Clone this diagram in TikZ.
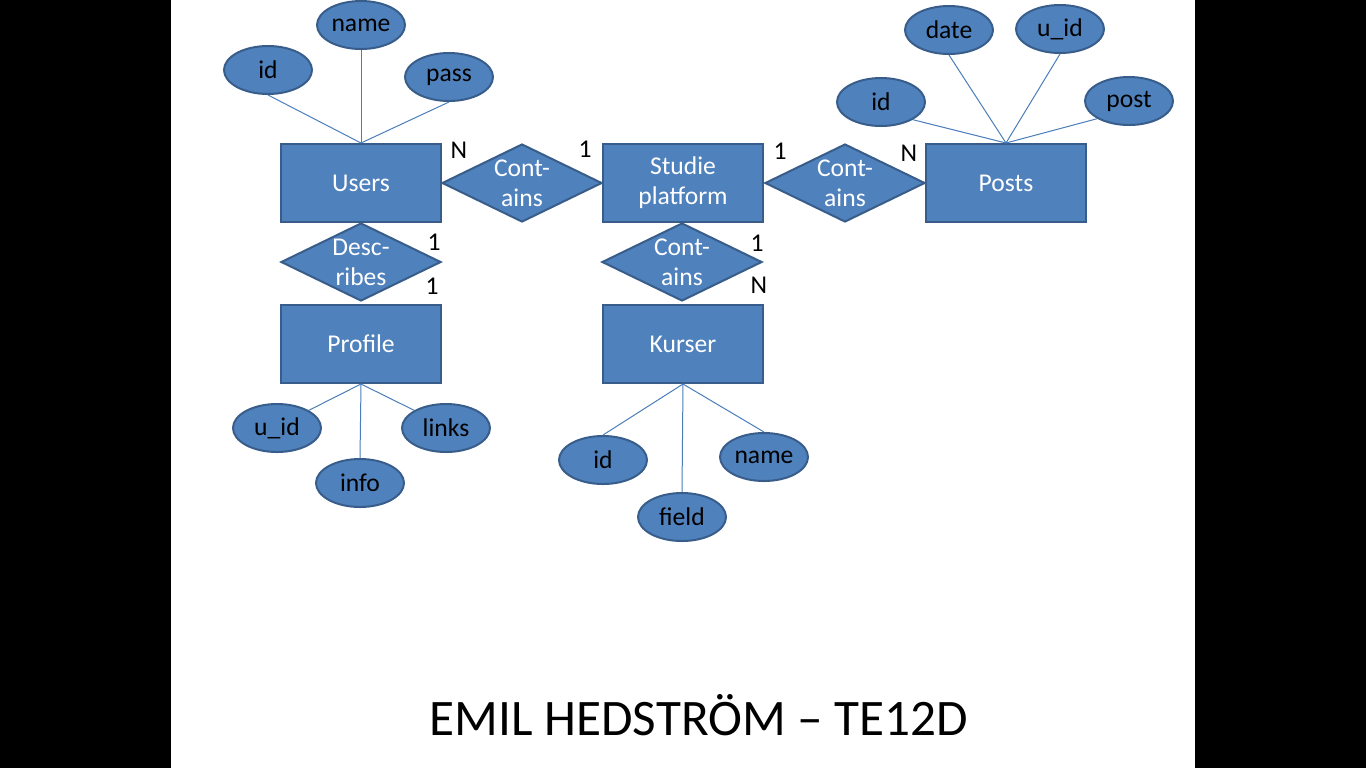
\documentclass[tikz,border=0pt]{standalone}
\usepackage{fontspec}
\setmainfont{Carlito}
\usetikzlibrary{shapes.geometric}

\definecolor{boxblue}{HTML}{4F81BD}
\definecolor{edgeblue}{HTML}{385D8A}
\definecolor{lineblue}{HTML}{4A7EBB}

\begin{document}
\begin{tikzpicture}
	[x=0.5pt,y=-0.5pt,
	entity/.style={rectangle, draw=edgeblue, fill=boxblue, line width=1pt, minimum width=80pt, minimum height=39pt, text=white, align=center, font=\fontsize{12.8}{15}\selectfont},
	rel/.style={diamond, draw=edgeblue, fill=boxblue, line width=1pt, aspect=2, inner sep=0pt, minimum width=80pt, minimum height=39pt, text=white, align=center, font=\fontsize{12.8}{15}\selectfont},
	attr/.style={ellipse, draw=edgeblue, fill=boxblue, line width=1pt, inner sep=0pt, minimum width=44pt, minimum height=24pt, font=\fontsize{12.8}{15}\selectfont},
	card/.style={font=\fontsize{12.8}{15}\selectfont},
	link/.style={draw=lineblue, line width=0.5pt}]
	\fill[black] (0,0) rectangle (1366,768);
	\fill[white] (171,0) rectangle (1195,768);
	
	\node[entity] (users) at (361,183) {Users};
	\node[entity] (sp) at (683,183) {Studie\\platform};
	\node[entity] (posts) at (1006,183) {Posts};
	\node[entity] (profile) at (361,344) {Profile};
	\node[entity] (kurser) at (683,344) {Kurser};
	
	\node[rel] (c1) at (522,183) {Cont-\\ains};
	\node[rel] (c2) at (845,183) {Cont-\\ains};
	\node[rel] (desc) at (361,262) {Desc-\\ribes};
	\node[rel] (c3) at (682,262) {Cont-\\ains};
	
	\node[attr] (uid) at (268,70) {id};
	\node[attr] (uname) at (361,25) {name};
	\node[attr] (upass) at (449,77) {pass};
	
	\node[attr] (pid) at (881,102) {id};
	\node[attr] (pdate) at (949,30) {date};
	\node[attr] (puid) at (1060,29) {u\_id};
	\node[attr] (ppost) at (1129,101) {post};
	
	\node[attr] (fuid) at (277,428) {u\_id};
	\node[attr] (finfo) at (360,483) {info};
	\node[attr] (flinks) at (446,428) {links};
	
	\node[attr] (kid) at (603,460) {id};
	\node[attr] (kfield) at (682,517) {field};
	\node[attr] (kname) at (764,457) {name};
	
	\node[card] (n1) at (459,150) {N};
	\node[card] (n2) at (585,149) {1};
	\node[card] (n3) at (780,151) {1};
	\node[card] (n4) at (909,153) {N};
	\node[card] (n5) at (434,242) {1};
	\node[card] (n6) at (432,286) {1};
	\node[card] (n7) at (757,243) {1};
	\node[card] (n8) at (759,285) {N};
	
	\foreach \from/\to in {uid.south/users.north,uname.south/users.north,upass.south/users.north,
		pid.south east/posts.north,pdate.south/posts.north,puid.south/posts.north,ppost.south west/posts.north,
		fuid.north east/profile.south,finfo.north/profile.south,flinks.north west/profile.south,
		kid.north/kurser.south,kfield.north/kurser.south,kname.north/kurser.south}
	\draw[link] (\from) -- (\to);
	
	\node[anchor=base, font=\fontsize{25.6}{31}\selectfont] (title) at (699,735) {EMIL HEDSTRÖM – TE12D};
\end{tikzpicture}
\end{document}
